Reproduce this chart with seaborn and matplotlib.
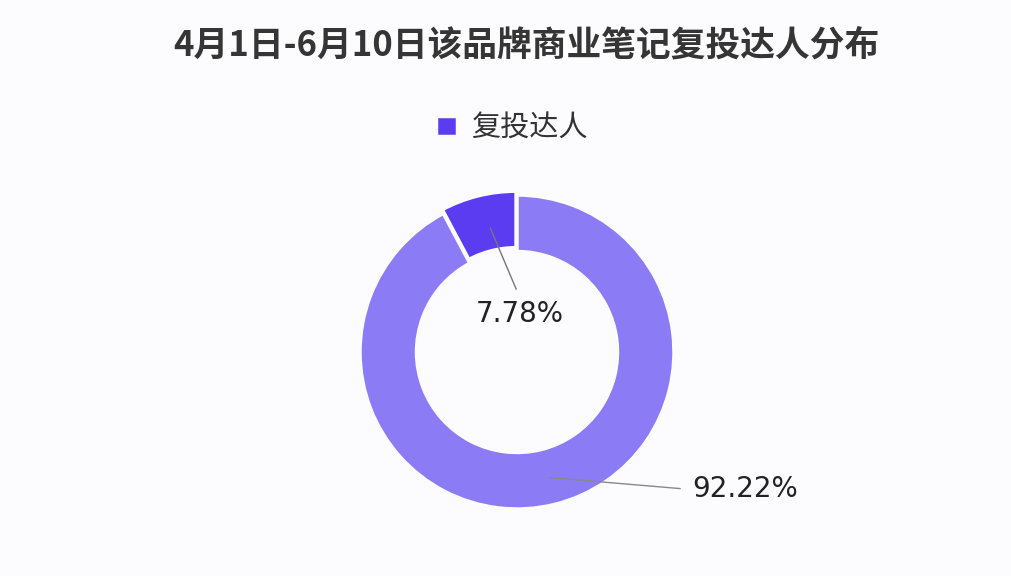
import matplotlib
matplotlib.use("Agg")
import matplotlib.pyplot as plt
import seaborn as sns

labels = ["复投达人", "其他达人"]
shares = [7.78, 92.22]
colors = ["#5b3cf0", "#8b7cf6"]
pct_labels = ["7.78%", "92.22%"]

sns.set_theme(style="white")
plt.rcParams["font.family"] = ["Noto Sans CJK SC", "DejaVu Sans"]

fig = plt.figure(figsize=(10.12, 5.76), dpi=100, facecolor="#fcfcfe")

# donut centre at (517, 352) px, outer radius 157 px
cx, cy, r = 517, 352, 157
ax = fig.add_axes([(cx - r) / 1012, (576 - cy - r) / 576, 2 * r / 1012, 2 * r / 576])
ax.set_facecolor("none")

wedges, _ = ax.pie(
    shares,
    colors=colors,
    startangle=90,
    counterclock=True,
    explode=[0.025, 0],
    radius=1,
    wedgeprops=dict(width=0.36, edgecolor="#fcfcfe", linewidth=2.5),
)
ax.set_xlim(-1, 1)
ax.set_ylim(-1, 1)
ax.set_aspect("equal")
ax.axis("off")

# leader lines and labels
ax.plot([-0.17, -0.005], [0.79, 0.40], color="#777777", lw=1, clip_on=False)
ax.text(0.02, 0.24, pct_labels[0], ha="center", va="center", fontsize=20,
        family="DejaVu Sans", color="#222222", clip_on=False)
ax.plot([0.21, 1.04], [-0.80, -0.87], color="#888888", lw=1, clip_on=False)
ax.text(1.45, -0.87, pct_labels[1], ha="center", va="center", fontsize=20,
        family="DejaVu Sans", color="#222222", clip_on=False)

fig.text(526 / 1012, 1 - 45 / 576, "4月1日-6月10日该品牌商业笔记复投达人分布",
         ha="center", va="center", fontsize=25, fontweight="bold", color="#353535")

fig.legend([wedges[0]], [labels[0]], loc="center", bbox_to_anchor=(512 / 1012, 1 - 128 / 576),
           frameon=False, handlelength=0.7, handleheight=0.7,
           handletextpad=0.5, labelcolor="#333333", prop=dict(size=21, weight="medium"))

fig.savefig("out.png", dpi=100, facecolor=fig.get_facecolor())
